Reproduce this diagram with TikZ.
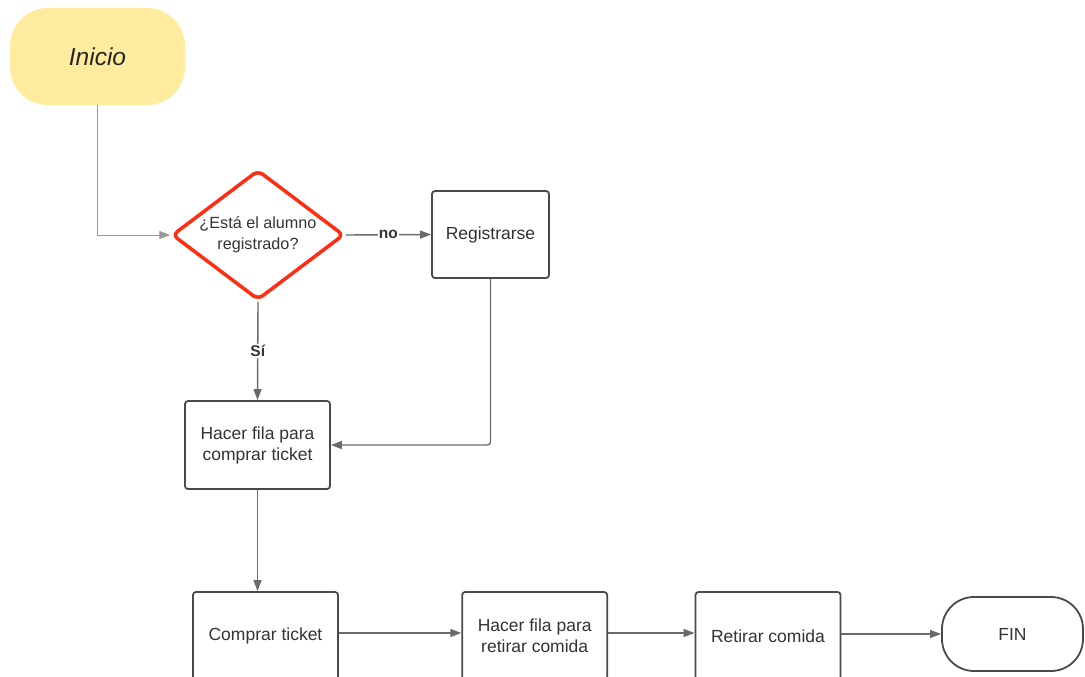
\documentclass[tikz,border=0pt]{standalone}
\usepackage{fontspec}
\setmainfont{Liberation Sans}
\usetikzlibrary{shapes.geometric,arrows.meta}
\definecolor{linec}{HTML}{6A6A6A}
\definecolor{lightc}{HTML}{9A9A9A}
\definecolor{boxc}{HTML}{4A4A4A}
\definecolor{txt}{HTML}{333333}
\definecolor{startc}{HTML}{FFEC9E}
\definecolor{redc}{HTML}{FF2D12}
\begin{document}
\begin{tikzpicture}[x=1pt,y=-1pt,
  box/.style={draw=boxc, line width=1.8pt, rounded corners=3pt, fill=white,
    minimum width=145pt, minimum height=88pt, inner sep=0pt, align=center,
    font=\fontsize{17.5}{21}\selectfont, text=txt},
  conn/.style={draw=linec, line width=1.4pt, -{Triangle[length=11pt,width=8pt]}},
  lbl/.style={fill=white, inner sep=1pt, font=\bfseries\fontsize{15.5}{18}\selectfont, text=txt}
]
\useasboundingbox (0,0) rectangle (1085,677);
\clip (0,0) rectangle (1085,677);

\node[fill=startc, rounded corners=38pt, minimum width=175pt, minimum height=97pt, inner sep=0pt,
  font=\itshape\fontsize{24.5}{28}\selectfont, text=black!85] (ini) at (97.5,56.5) {Inicio};

\node[diamond, draw=redc, line width=3.5pt, rounded corners=6pt, shape aspect=1.32,
  minimum width=172pt, minimum height=130pt, inner sep=0pt, align=center,
  font=\fontsize{16.2}{21}\selectfont, text=txt] (q) at (258,235) {¿Está el alumno\\registrado?};

\node[box, minimum width=117pt, minimum height=87pt] (reg) at (490.5,234.5) {Registrarse};
\node[box] (hf1) at (257.5,445) {Hacer fila para\\comprar ticket};
\node[box] (comp) at (265.5,636) {Comprar ticket};
\node[box] (hf2) at (534.7,636) {Hacer fila para\\retirar comida};
\node[box] (ret) at (768,636) {Retirar comida};
\node[box, rounded corners=32pt, minimum width=141pt, minimum height=74pt] (fin) at (1012.5,634) {FIN};

\draw[draw=lightc, line width=1pt, -{Triangle[length=11pt,width=8pt]}, color=lightc] (ini.south) |- (q.west);
\draw[conn] (q.east) -- node[lbl] {no} (reg.west);
\draw[conn] (q.south) -- node[lbl] {Sí} (hf1.north);
\draw[conn, rounded corners=3pt] (reg.south) |- (hf1.east);
\draw[conn] (hf1.south) -- (hf1.south |- comp.north);
\draw[conn] ([yshift=3pt]comp.east) -- ([yshift=3pt]hf2.west);
\draw[conn] ([yshift=3pt]hf2.east) -- ([yshift=3pt]ret.west);
\draw[conn] ([yshift=2pt]ret.east) -- (fin.west);
\end{tikzpicture}
\end{document}
